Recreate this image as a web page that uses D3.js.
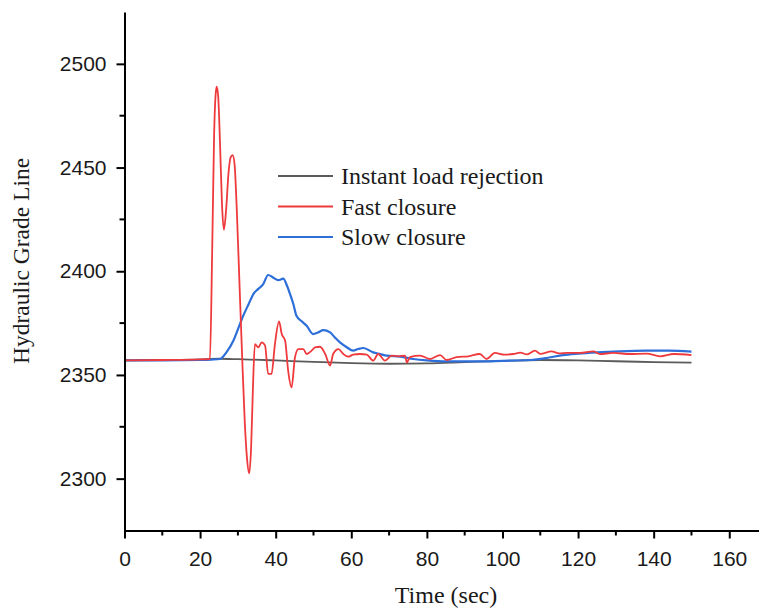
<!DOCTYPE html>
<html>
<head>
<meta charset="utf-8">
<script src="https://cdn.jsdelivr.net/npm/d3@7"></script>
<style>
  body { margin: 0; background: #fff; }
  svg { display: block; }
</style>
</head>
<body>
<svg id="chart" width="759" height="609"></svg>
<script>
// values
const instantTime = [0, 10, 20, 25, 30, 40, 50, 60, 70, 80, 90, 100, 110, 120, 130, 140, 150];
const instantHGL = [2357, 2357.2, 2357.5, 2357.8, 2357.6, 2357, 2356.3, 2355.7, 2355.4, 2355.6, 2356.2, 2356.8, 2357.2, 2357, 2356.6, 2356.2, 2355.9];

const fastTime = [0, 10, 20, 22.6, 23.2, 23.7, 24.1, 24.4, 24.8, 25.3, 25.8, 26.3, 26.9, 27.5, 28.1, 28.6, 29.1, 29.7,
    30.4, 31.1, 31.8, 32.4, 33.0, 33.5, 34.0, 34.5, 35.4, 36.3, 37.2, 38.0, 38.9, 39.8, 40.9, 41.6, 42.5, 43.3, 44.2,
    45.1, 46.0, 47.3, 48.2, 49.5, 50.4, 51.7, 53.1, 54.4, 55.2, 56.6, 57.9, 59.2, 60.5, 62.3, 64.1, 65.8, 67.1, 68.9,
    70.7, 72.5, 74.2, 74.7, 75.5, 78.2, 80.8, 83.5, 85.2, 87.9, 91, 94, 95.8, 98, 100.5, 102.9, 104.7, 106.5, 108.6,
    110, 113, 115, 117, 120.5, 124, 125.8, 129.3, 133.7, 138.1, 141.7, 145.3, 150];
const fastHGL = [2357, 2357.2, 2357.5, 2357.7, 2410, 2465, 2485, 2489, 2484, 2460, 2432, 2420, 2430, 2447, 2455, 2456, 2452, 2430,
    2395, 2360, 2328, 2310, 2302.5, 2315, 2345, 2364.9, 2363.3, 2365.7, 2364.1, 2350.5, 2350.5, 2364.9, 2375.8, 2369.7, 2366.5, 2352, 2344,
    2358.5, 2362.5, 2362.5, 2360.1, 2361.7, 2363.3, 2363.6, 2360.1, 2354.5, 2360.1, 2362.5, 2360.1, 2358.8, 2359.8, 2360.1, 2359.8, 2356.9, 2360.1, 2356.9,
    2359.3, 2359, 2359.3, 2356, 2358.6, 2359.3, 2357.7, 2359.6, 2357.2, 2358.6, 2359, 2360.1, 2357.7, 2360.6, 2359.8, 2360.1, 2360.8, 2359.9, 2361.7,
    2360.2, 2361.4, 2360.4, 2360.6, 2360.6, 2361.4, 2360.1, 2360.6, 2360.1, 2360.3, 2359, 2360.1, 2359.6];

const slowTime = [0, 10, 20, 23, 25.3, 27, 28.8, 30, 31.4, 32.8, 34.1, 35.4, 36.7, 38, 39.3, 40.7, 42, 43, 43.8, 44.7, 45.5,
    46.8, 48.2, 49.9, 51.2, 52.6, 54.4, 55.7, 57, 58.7, 60.5, 61.8, 63.2, 65.8, 67.6, 69.4, 73, 76.4, 80, 85.2, 94, 100,
    107.3, 112, 116, 120, 125, 131, 138, 144, 150];
const slowHGL = [2357, 2357, 2357.2, 2357.4, 2357.7, 2361, 2366.5, 2372, 2378.5, 2384, 2389, 2391.5, 2393.8, 2398.2, 2397, 2395.7, 2396.4, 2393, 2389, 2384, 2378.5,
    2376, 2373.7, 2369.7, 2370.5, 2371.6, 2370.5, 2368, 2365.7, 2363.5, 2361.7, 2362.5, 2363, 2360.9, 2360.1, 2359.3, 2358.8, 2357.7, 2357, 2356.5, 2356.5, 2356.8,
    2357.2, 2358.3, 2359.6, 2360.3, 2360.9, 2361.4, 2361.7, 2361.7, 2361.2];

const seriesNames = ["Instant load rejection", "Fast closure", "Slow closure"];
const seriesColors = ["#5b5b5b", "#ef3a3d", "#2e6ed9"];

const xTicks = [0, 20, 40, 60, 80, 100, 120, 140, 160];
const yTicks = [2300, 2350, 2400, 2450, 2500];

const svg = d3.select("#chart");

const x = d3.scaleLinear().domain([0, 168]).range([124.5, 759.5]);
const y = d3.scaleLinear().domain([2275, 2525]).range([530.5, 12]);

// lines
const series = [
    { time: instantTime, hgl: instantHGL },
    { time: fastTime, hgl: fastHGL },
    { time: slowTime, hgl: slowHGL },
];

const line = d3.line()
    .x(d => x(d[0]))
    .y(d => y(d[1]))
    .curve(d3.curveMonotoneX);

// gray first, then blue, red last
const drawOrder = [0, 2, 1];
drawOrder.forEach(i => {
    const s = series[i];
    svg.append("path")
        .datum(s.time.map((t, k) => [t, s.hgl[k]]))
        .attr("fill", "none")
        .attr("stroke", seriesColors[i])
        .attr("stroke-width", i === 2 ? 2.2 : 1.8)
        .attr("stroke-linejoin", "round")
        .attr("d", line);
});

// axes
const xAxis = svg.append("g")
    .attr("transform", "translate(0,530.5)")
    .call(d3.axisBottom(x).tickValues(xTicks).tickSize(8).tickSizeOuter(0).tickPadding(13));
xAxis.append("g")
    .selectAll("line")
    .data(d3.range(10, 170, 20))
    .enter()
    .append("line")
    .attr("x1", d => x(d)).attr("x2", d => x(d))
    .attr("y1", 0).attr("y2", 5)
    .attr("stroke", "#000").attr("stroke-width", 2);

const yAxis = svg.append("g")
    .attr("transform", "translate(124.5,0)")
    .call(d3.axisLeft(y).tickValues(yTicks).tickFormat(d3.format("d")).tickSize(8).tickSizeOuter(0).tickPadding(10));
yAxis.append("g")
    .selectAll("line")
    .data(d3.range(2275, 2525, 50).filter(v => v > 2275))
    .enter()
    .append("line")
    .attr("y1", d => y(d)).attr("y2", d => y(d))
    .attr("x1", 0).attr("x2", -5)
    .attr("stroke", "#000").attr("stroke-width", 2);

[xAxis, yAxis].forEach(ax => {
    ax.select(".domain").attr("stroke", "#000").attr("stroke-width", 2);
    ax.selectAll(".tick line").attr("stroke", "#000").attr("stroke-width", 2);
    ax.selectAll(".tick text")
        .attr("fill", "#1a1a1a")
        .style("font-family", "'Liberation Sans', Arial, sans-serif")
        .style("font-size", "21px");
});

// axis titles
svg.append("text")
    .attr("x", 446)
    .attr("y", 603)
    .attr("text-anchor", "middle")
    .style("font-family", "'Liberation Serif', 'Times New Roman', serif")
    .style("font-size", "24px")
    .attr("fill", "#1a1a1a")
    .text("Time (sec)");

svg.append("text")
    .attr("transform", "translate(29,261) rotate(-90)")
    .attr("text-anchor", "middle")
    .style("font-family", "'Liberation Serif', 'Times New Roman', serif")
    .style("font-size", "23.5px")
    .attr("fill", "#1a1a1a")
    .text("Hydraulic Grade Line");

// legend
const legend = svg.append("g").attr("transform", "translate(278,176)");
seriesNames.forEach((name, i) => {
    const row = legend.append("g").attr("transform", `translate(0,${i * 30.5})`);
    row.append("line")
        .attr("x1", 0).attr("x2", 55)
        .attr("stroke", seriesColors[i])
        .attr("stroke-width", 2);
    row.append("text")
        .attr("x", 63)
        .attr("y", 8)
        .style("font-family", "'Liberation Serif', 'Times New Roman', serif")
        .style("font-size", "24px")
        .attr("fill", "#1a1a1a")
        .text(name);
});
</script>
</body>
</html>
